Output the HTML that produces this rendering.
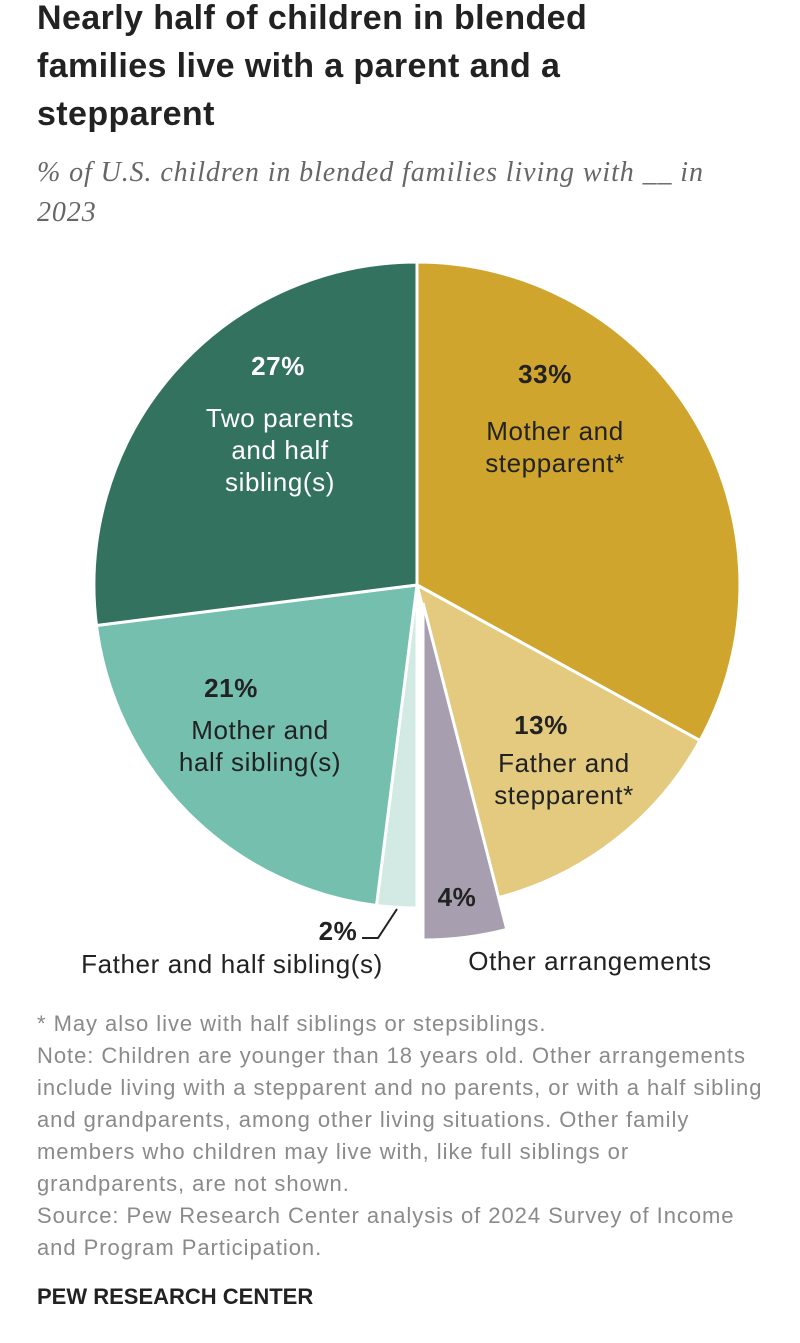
<!DOCTYPE html>
<html><head><meta charset="utf-8"><style>
body{margin:0;width:800px;height:1343px;background:#fff;font-family:"Liberation Sans",sans-serif;position:relative;overflow:hidden}
.t{position:absolute;left:37px;top:-6px;font-size:34px;font-weight:bold;line-height:48px;color:#222;width:650px;letter-spacing:0.4px}
.s{position:absolute;left:37px;top:153px;font-family:"Liberation Serif",serif;font-style:italic;font-size:28px;letter-spacing:0.9px;line-height:40px;color:#666;width:730px}
.n{position:absolute;left:37px;top:1008px;font-size:22px;letter-spacing:0.95px;line-height:32px;color:#8a8a8a;width:740px}
.p{position:absolute;left:37px;top:1284px;font-size:22px;font-weight:bold;color:#222}
svg{position:absolute;left:0;top:0}
</style></head><body>
<div class="t">Nearly half of children in blended families live with a parent and a stepparent</div>
<div class="s">% of U.S. children in blended families living with __ in 2023</div>
<svg width="800" height="1000" font-family="Liberation Sans, sans-serif" font-size="26" letter-spacing="0.6">
<g stroke="#fff" stroke-width="3">
<path d="M417,585 L417,262 A323,323 0 0 1 700,740.6 Z" fill="#D0A52E"/>
<path d="M417,585 L700,740.6 A323,323 0 0 1 497.3,897.9 Z" fill="#E3CA7E"/>
<path d="M423,603 L506.8,929.4 A337,337 0 0 1 423,940 Z" fill="#A79EAF"/>
<path d="M417,585 L417,908 A323,323 0 0 1 376.5,905.5 Z" fill="#D3EAE4"/>
<path d="M417,585 L376.5,905.5 A323,323 0 0 1 96.5,625.5 Z" fill="#74BFAD"/>
<path d="M417,585 L96.5,625.5 A323,323 0 0 1 417,262 Z" fill="#33725F"/>
</g>
<g text-anchor="middle">
<text x="278" y="375" fill="#fff" font-weight="bold">27%</text>
<text x="280" y="427" fill="#fff">Two parents</text>
<text x="280" y="459" fill="#fff">and half</text>
<text x="280" y="491" fill="#fff">sibling(s)</text>
<text x="545" y="383" fill="#222" font-weight="bold">33%</text>
<text x="555" y="440" fill="#222">Mother and</text>
<text x="555" y="472" fill="#222">stepparent*</text>
<text x="541" y="734" fill="#222" font-weight="bold">13%</text>
<text x="564" y="772" fill="#222">Father and</text>
<text x="564" y="804" fill="#222">stepparent*</text>
<text x="231" y="697" fill="#222" font-weight="bold">21%</text>
<text x="260" y="739" fill="#222">Mother and</text>
<text x="260" y="771" fill="#222">half sibling(s)</text>
<text x="457" y="906" fill="#222" font-weight="bold">4%</text>
<text x="338" y="940" fill="#222" font-weight="bold">2%</text>
<text x="232" y="973" fill="#222">Father and half sibling(s)</text>
<text x="590" y="970" fill="#222">Other arrangements</text>
</g>
<polyline points="362,938 378,938 397,909" fill="none" stroke="#222" stroke-width="2"/>
</svg>
<div class="n">* May also live with half siblings or stepsiblings.<br>Note: Children are younger than 18 years old. Other arrangements include living with a stepparent and no parents, or with a half sibling and grandparents, among other living situations. Other family members who children may live with, like full siblings or grandparents, are not shown.<br>Source: Pew Research Center analysis of 2024 Survey of Income and Program Participation.</div>
<div class="p">PEW RESEARCH CENTER</div>
</body></html>
